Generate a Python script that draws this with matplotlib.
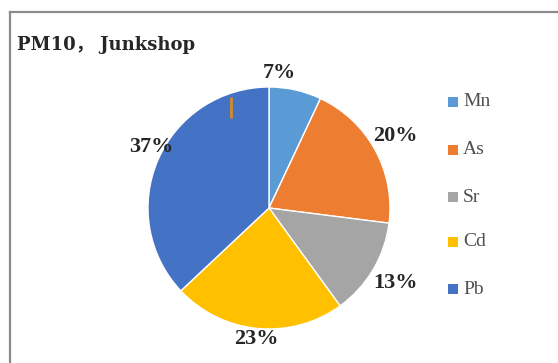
import matplotlib
matplotlib.use("Agg")
import matplotlib.pyplot as plt
from matplotlib.patches import Rectangle
from matplotlib.lines import Line2D
import numpy as np

# Composition of PM10-bound metals at the junkshop site
elements = ["Mn", "As", "Sr", "Cd", "Pb"]
shares = [7, 20, 13, 23, 37]
colors = ["#5B9BD5", "#ED7D31", "#A5A5A5", "#FFC000", "#4472C4"]
title = "PM10\uff0c Junkshop"

plt.rcParams["font.family"] = ["Liberation Serif", "Noto Sans CJK SC", "DejaVu Serif"]

W, H = 558, 363
fig = plt.figure(figsize=(W / 100, H / 100), dpi=100)
fig.patch.set_facecolor("white")

# outer frame (top and left edges visible)
fig.add_artist(Line2D([10 / W, 1.0], [1 - 11.5 / H, 1 - 11.5 / H], color="#8c8c8c", lw=1.6))
fig.add_artist(Line2D([10 / W, 10 / W], [0.0, 1 - 11.5 / H], color="#8c8c8c", lw=1.6))

# title, sized to span the intended width
t = fig.text(17 / W, 1 - 45 / H, title, fontsize=14, fontweight="bold", color="#262626",
             va="center", ha="left",
             family=["DejaVu Serif", "Noto Sans CJK SC"])
renderer = fig.canvas.get_renderer()
tw = t.get_window_extent(renderer).width
t.set_fontsize(14 * 178 / tw)

# pie axes: center ~ (269, 208), radius ~ 120 px
cx, cy, r = 269, 208, 121
ax = fig.add_axes([(cx - r) / W, 1 - (cy + r) / H, 2 * r / W, 2 * r / H])
wedges, texts = ax.pie(shares, colors=colors, startangle=90, counterclock=False,
                       wedgeprops=dict(edgecolor="white", linewidth=1.0))
ax.set_xlim(-1, 1)
ax.set_ylim(-1, 1)
ax.set_aspect("auto")

# value labels placed just outside each wedge
label_r = [1.12, 1.2, 1.21, 1.09, 1.1]
label_shift = [8, 1, 0, 0, -4]
start = 90.0
for val, lr, sh in zip(shares, label_r, label_shift):
    span = val / sum(shares) * 360
    mid = np.deg2rad(start - span / 2 + sh)
    ax.text(lr * np.cos(mid), lr * np.sin(mid), f"{val}%", ha="center", va="center",
            fontsize=16, fontweight="bold", color="#262626")
    start -= span

# small orange tick inside the Pb wedge
ax.plot([-0.31, -0.31], [0.74, 0.92], color="#D68A2A", lw=2, solid_capstyle="butt")

# legend column
leg_y = [102, 150, 197, 242, 289]
for name, col, y in zip(elements, colors, leg_y):
    fig.add_artist(Rectangle((448 / W, 1 - (y + 5) / H), 10 / W, 10 / H,
                             facecolor=col, edgecolor="none"))
    fig.text(463 / W, 1 - y / H, name, fontsize=14, color="#505050",
             va="center", ha="left")

fig.savefig("out.png", dpi=100, facecolor="white")
